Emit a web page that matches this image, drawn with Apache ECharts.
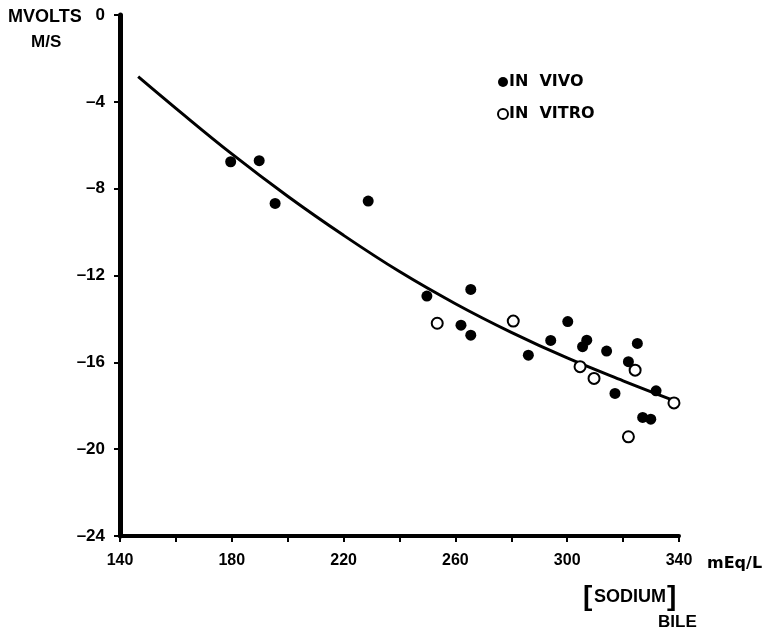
<!DOCTYPE html>
<html>
<head>
<meta charset="utf-8">
<script src="https://cdn.jsdelivr.net/npm/echarts@6/dist/echarts.min.js"></script>
<style>html,body{margin:0;padding:0;background:#fff}#c{width:762px;height:632px}</style>
</head>
<body>
<div id="c"></div>
<script>
// Data
const xTicks = [140, 180, 220, 260, 300, 340];
const yTicks = [0, -4, -8, -12, -16, -20, -24];
const inVivoX = [179.6, 189.8, 195.5, 228.8, 249.8, 265.5, 262.0, 265.5, 286.1, 294.1, 300.2, 307.0, 305.5, 314.1, 325.1, 321.9, 317.1, 331.8, 327.0, 329.9];
const inVivoY = [-6.76, -6.71, -8.68, -8.57, -12.95, -12.64, -14.29, -14.75, -15.67, -14.99, -14.12, -14.98, -15.28, -15.48, -15.13, -15.97, -17.43, -17.31, -18.54, -18.62];
const inVitroX = [253.5, 280.7, 304.6, 309.6, 324.3, 338.2, 321.9];
const inVitroY = [-14.2, -14.1, -16.2, -16.74, -16.36, -17.87, -19.43];
const curveX = [146.5, 160, 180, 200, 220, 240, 260, 280, 300, 320, 338];
const curveY = [-2.84, -4.3, -6.4, -8.35, -10.15, -11.82, -13.3, -14.62, -15.8, -16.85, -17.75];

const zip = (a, b) => a.map((v, i) => [v, b[i]]);
const LAB = '"Liberation Sans", Arial, sans-serif';

const chart = echarts.init(document.getElementById('c'), null, {renderer: 'canvas'});
chart.setOption({
  animation: false,
  backgroundColor: '#fff',
  grid: {left: 120, top: 15, width: 559, height: 521, containLabel: false, outerBoundsMode: 'none'},
  legend: {
    orient: 'vertical', left: 492, top: 69, itemGap: 16,
    itemWidth: 10, itemHeight: 10, selectedMode: false,
    data: [{name: 'IN VIVO', icon: 'circle'}, {name: 'IN VITRO', icon: 'circle'}],
    formatter: n => n.replace(' ', '  '),
    textStyle: {fontFamily: 'DejaVu Sans', fontWeight: 'bold', fontSize: 16, color: '#000', padding: [0, 0, 0, -4]}
  },
  xAxis: {
    type: 'value', min: 140, max: 340, interval: 20,
    name: 'mEq/L', nameLocation: 'end', nameGap: 28,
    nameTextStyle: {fontFamily: 'DejaVu Sans', fontWeight: 'bold', fontSize: 16, color: '#000', verticalAlign: 'top', padding: [20, 0, 0, 0]},
    axisLine: {show: true, onZero: false, lineStyle: {color: '#000', width: 4}},
    axisTick: {show: true, length: 6, lineStyle: {color: '#000', width: 2}},
    axisLabel: {
      fontFamily: LAB, fontWeight: 'bold', fontSize: 16, color: '#000', margin: 17,
      formatter: v => xTicks.includes(v) ? String(v) : ''
    },
    splitLine: {show: false}
  },
  yAxis: {
    type: 'value', min: -24, max: 0, interval: 4,
    axisLine: {show: true, onZero: false, lineStyle: {color: '#000', width: 5}},
    axisTick: {show: true, length: 6, lineStyle: {color: '#000', width: 2}},
    axisLabel: {
      fontFamily: LAB, fontWeight: 'bold', fontSize: 17, color: '#000', margin: 15,
      formatter: v => yTicks.includes(v) ? (v < 0 ? '\u2013' + Math.abs(v) : String(v)) : ''
    },
    splitLine: {show: false}
  },
  graphic: [
    {type: 'text', left: 8, top: 8, style: {text: 'MVOLTS', font: 'bold 18px "Liberation Sans"', fill: '#000'}},
    {type: 'text', left: 31, top: 34, style: {text: 'M/S', font: 'bold 17px "Liberation Sans"', fill: '#000'}},
    {type: 'text', left: 583, top: 583, style: {text: '[', font: 'bold 28px "Liberation Sans"', fill: '#000'}},
    {type: 'text', left: 594, top: 588, style: {text: 'SODIUM', font: 'bold 18px "Liberation Sans"', fill: '#000'}},
    {type: 'text', left: 667, top: 583, style: {text: ']', font: 'bold 28px "Liberation Sans"', fill: '#000'}},
    {type: 'text', left: 658, top: 614, style: {text: 'BILE', font: 'bold 17px "Liberation Sans"', fill: '#000'}}
  ],
  series: [
    {
      name: 'fit', type: 'line', smooth: 0.4, showSymbol: false, silent: true,
      data: zip(curveX, curveY),
      lineStyle: {color: '#000', width: 3}, z: 1
    },
    {
      name: 'IN VIVO', type: 'scatter', symbol: 'circle', symbolSize: 11,
      data: zip(inVivoX, inVivoY),
      itemStyle: {color: '#000', opacity: 1}, z: 3
    },
    {
      name: 'IN VITRO', type: 'scatter', symbol: 'circle', symbolSize: 11,
      data: zip(inVitroX, inVitroY),
      itemStyle: {color: '#fff', borderColor: '#000', borderWidth: 2, opacity: 1}, z: 4
    }
  ]
});
</script>
</body>
</html>
